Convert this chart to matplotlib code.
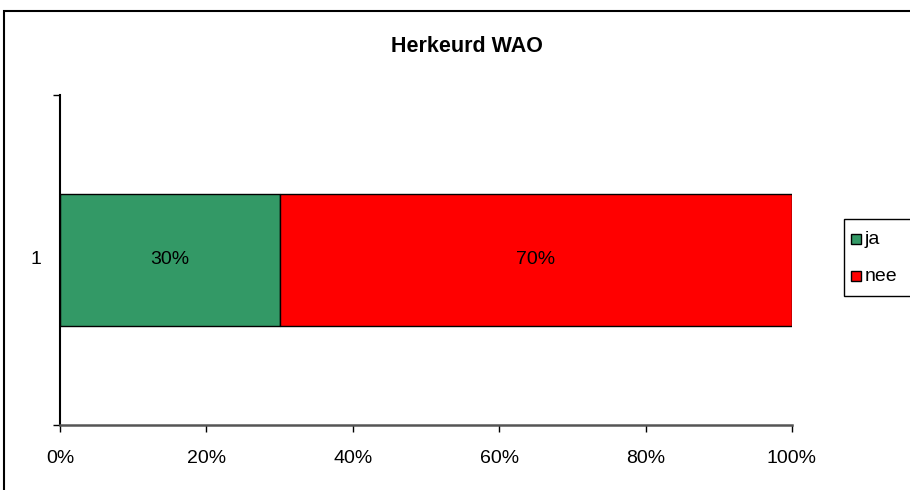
import matplotlib
matplotlib.use("Agg")
import matplotlib.pyplot as plt
from matplotlib.patches import Rectangle

plt.rcParams['font.family'] = ['Liberation Sans', 'DejaVu Sans']

title = "Herkeurd WAO"
categories = ["1"]
series_names = ["ja", "nee"]
series_values = [0.30, 0.70]
series_colors = ["#339966", "#FF0000"]
xticks = [0, 0.2, 0.4, 0.6, 0.8, 1.0]
xtick_labels = ["0%", "20%", "40%", "60%", "80%", "100%"]

FS = 14
W, H = 910, 490

def fx(px):
    return px / W

def fy(py):
    return 1 - py / H

fig = plt.figure(figsize=(9.1, 4.9), dpi=100)
ax = fig.add_axes([fx(60), 65/H, (792-60)/W, (425-95)/H])

# outer chart border
fig.patches.append(Rectangle((fx(4), -0.2), 1.2, 1.2 - 11/H, transform=fig.transFigure,
                             fill=False, edgecolor='black', linewidth=1.5))

left = 0
for name, val, col in zip(series_names, series_values, series_colors):
    ax.barh(0.5, val, left=left, height=0.4, color=col, edgecolor='black', linewidth=1.0, label=name)
    ax.text(left + val/2, 0.5, f"{round(val*100)}%", ha='center', va='center', fontsize=FS)
    left += val

ax.set_xlim(0, 1)
ax.set_ylim(0, 1)
ax.set_xticks(xticks)
ax.set_xticklabels(xtick_labels, fontsize=FS)
ax.set_yticks([0, 1])
ax.set_yticklabels([])
ax.text(-0.026, 0.5, categories[0], transform=ax.transAxes, ha='right', va='center', fontsize=FS)
ax.tick_params(axis='x', direction='out', length=5, width=1, pad=13)
ax.tick_params(axis='y', direction='out', length=5, width=1)
for s in ['top', 'right']:
    ax.spines[s].set_visible(False)
ax.spines['left'].set_linewidth(1.5)
ax.spines['bottom'].set_linewidth(1.8)
ax.spines['bottom'].set_color('#555555')

fig.text(fx(467), fy(46), title, ha='center', va='center', fontsize=15.5, fontweight='bold')

# legend (Excel-style box, clipped at the right edge)
fig.patches.append(Rectangle((fx(844), fy(296)), fx(930) - fx(844), fy(219) - fy(296),
                             transform=fig.transFigure, fill=True, facecolor='white',
                             edgecolor='black', linewidth=1.0))
row_centers = [239, 276]
for name, col, yc in zip(series_names, series_colors, row_centers):
    fig.patches.append(Rectangle((fx(851), fy(yc + 5)), 10/W, 10/H, transform=fig.transFigure,
                                 facecolor=col, edgecolor='black', linewidth=1.0))
    fig.text(fx(865), fy(yc + 5), name, ha='left', va='baseline', fontsize=FS)

fig.savefig("out.png", dpi=100)
